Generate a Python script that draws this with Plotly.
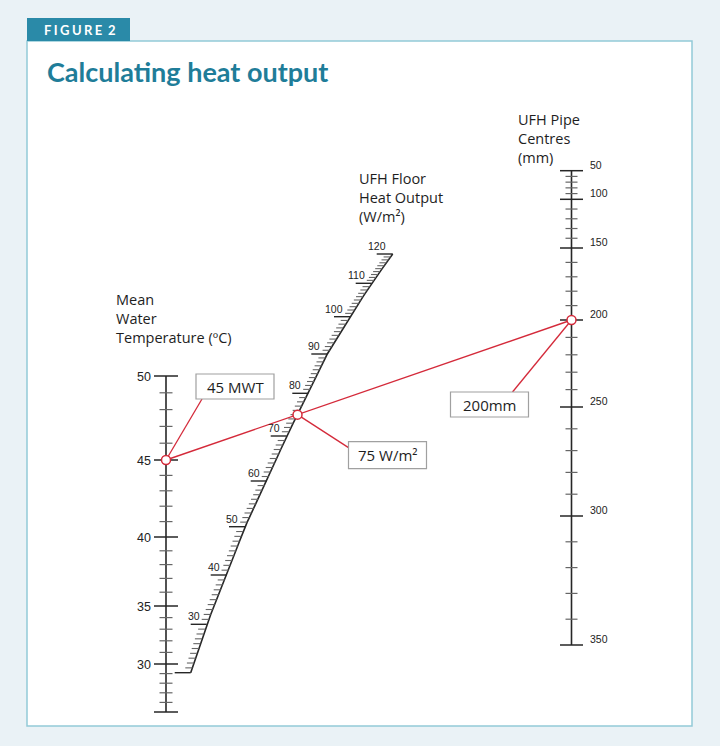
import numpy as np
import plotly.graph_objects as go

# ---------------- data ----------------
mwt_ticks = list(range(25, 51))                 # Mean water temperature (°C), 1° steps
mwt_major = [25, 30, 35, 40, 45, 50]
mwt_labels = [30, 35, 40, 45, 50]

heat_ticks = list(range(20, 121))               # floor heat output (W/m²), 1 W steps
heat_major = [20, 30, 40, 50, 60, 70, 80, 90, 100, 110, 120]
heat_labels = [30, 40, 50, 60, 70, 80, 90, 100, 110, 120]

pipe_ticks = list(range(50, 351, 10))           # pipe centres (mm), 10 mm steps
pipe_major = [50, 100, 150, 200, 250, 300, 350]
pipe_labels = [50, 100, 150, 200, 250, 300, 350]

reading_mwt = 45
reading_heat = 75
reading_pipe = 200
callout_mwt = "45 MWT"
callout_heat = "75 W/m²"
callout_pipe = "200mm"

title_mwt = "Mean<br>Water<br>Temperature (ºC)"
title_heat = "UFH Floor<br>Heat Output<br>(W/m²)"
title_pipe = "UFH Pipe<br>Centres<br>(mm)"

# ---------------- nomogram scales (polylinear, value -> page position) ----------------
W, H = 720, 746
mwt_x = 166.0
mwt_dom = [25, 30, 35, 40, 45, 50]
mwt_rng = [712, 664, 606, 537, 460, 376]

heat_dom = [20, 30, 40, 50, 60, 70, 80, 90, 100, 110, 120]
heat_rng_x = [190.7, 206.7, 226.7, 245.0, 266.7, 286.7, 308.3, 327.3, 350.0, 371.7, 392.7]
heat_rng_y = [672.7, 624.3, 575.0, 526.7, 481.0, 436.0, 393.3, 354.0, 316.7, 283.3, 254.0]

pipe_x = 571.5
pipe_dom = [50, 100, 150, 200, 250, 300, 350]
pipe_rng = [170.7, 199.3, 248.0, 320.0, 407.0, 516.0, 645.0]


def mwt_pos(v):
    v = np.asarray(v, float)
    return np.full_like(v, mwt_x), np.interp(v, mwt_dom, mwt_rng)


def heat_pos(v):
    v = np.asarray(v, float)
    return np.interp(v, heat_dom, heat_rng_x), np.interp(v, heat_dom, heat_rng_y)


def pipe_pos(v):
    v = np.asarray(v, float)
    return np.full_like(v, pipe_x), np.interp(v, pipe_dom, pipe_rng)


def segs(x0, y0, x1, y1):
    xs, ys = [], []
    for a, b, c, d in zip(x0, y0, x1, y1):
        xs += [a, c, None]
        ys += [b, d, None]
    return xs, ys


AX = "#262626"
MINOR = "#666666"
RED = "#d42a3a"
TEAL = "#2a8aa8"
BG = "#eaf2f6"
TICKFONT = "Liberation Sans, Arial"
BODY = "Open Sans"

fig = go.Figure()


def add_lines(xs, ys, color, width):
    fig.add_trace(go.Scatter(x=xs, y=ys, mode="lines", line=dict(color=color, width=width),
                             hoverinfo="skip", showlegend=False))


# ---- MWT scale ----
mx, my = mwt_pos([min(mwt_ticks), max(mwt_ticks)])
add_lines(list(mx), list(my), AX, 1.6)
minor = [t for t in mwt_ticks if t not in mwt_major]
tx, ty = mwt_pos(minor)
add_lines(*segs(tx - 6.5, ty, tx + 6.5, ty), MINOR, 1.2)
tx, ty = mwt_pos(mwt_major)
add_lines(*segs(tx - 12, ty, tx + 12, ty), AX, 1.5)

# ---- heat output scale ----
hx, hy = heat_pos(heat_ticks)
add_lines(list(hx), list(hy), AX, 1.6)
minor = [t for t in heat_ticks if t not in heat_major]
tx, ty = heat_pos(minor)
add_lines(*segs(tx - 7, ty, tx, ty), MINOR, 1.1)
tx, ty = heat_pos(heat_major)
add_lines(*segs(tx - 16, ty, tx, ty), AX, 1.4)

# ---- pipe centres scale ----
px_, py_ = pipe_pos([min(pipe_ticks), max(pipe_ticks)])
add_lines(list(px_), list(py_), AX, 1.6)
minor = [t for t in pipe_ticks if t not in pipe_major]
tx, ty = pipe_pos(minor)
add_lines(*segs(tx - 6, ty, tx + 6, ty), MINOR, 1.2)
tx, ty = pipe_pos(pipe_major)
add_lines(*segs(tx - 11.5, ty, tx + 11.5, ty), AX, 1.5)

# ---- reading line & callouts ----
ax_, ay_ = mwt_pos([reading_mwt])
bx_, by_ = heat_pos([reading_heat])
cx_, cy_ = pipe_pos([reading_pipe])
A = (float(ax_[0]), float(ay_[0]))
B = (float(bx_[0]), float(by_[0]))
C = (float(cx_[0]), float(cy_[0]))

add_lines([A[0], C[0]], [A[1], C[1]], RED, 1.4)

# callout boxes (offsets from reading points): (dx0, dy0, dx1, dy1), leader end (dx, dy)
box_mwt = (30, -86, 108, -61)
lead_mwt = (36, -61)
box_heat = (51, 27, 129, 54)
lead_heat = (51, 33)
box_pipe = (-121, 72, -43, 97)
lead_pipe = (-59, 72)

shapes = []
shapes.append(dict(type="rect", xref="x", yref="y", x0=27, y0=41, x1=692, y1=726,
                   fillcolor="white", line=dict(color="#93cad8", width=1.5), layer="below"))
shapes.append(dict(type="rect", xref="x", yref="y", x0=27, y0=18, x1=130, y1=41,
                   fillcolor=TEAL, line=dict(width=0), layer="below"))

annotations = []
for P, box, lead, txt in [(A, box_mwt, lead_mwt, callout_mwt),
                          (B, box_heat, lead_heat, callout_heat),
                          (C, box_pipe, lead_pipe, callout_pipe)]:
    add_lines([P[0], P[0] + lead[0]], [P[1], P[1] + lead[1]], RED, 1.3)
    x0, y0, x1, y1 = P[0] + box[0], P[1] + box[1], P[0] + box[2], P[1] + box[3]
    shapes.append(dict(type="rect", xref="x", yref="y", x0=x0, y0=y0, x1=x1, y1=y1,
                       fillcolor="white", line=dict(color="#a0a0a0", width=1.2), layer="above"))
    annotations.append(dict(x=(x0 + x1) / 2, y=(y0 + y1) / 2, text=txt, showarrow=False,
                            xref="x", yref="y", xanchor="center", yanchor="middle",
                            font=dict(family=BODY, size=15, color="#1e1e1e")))

fig.add_trace(go.Scatter(x=[A[0], B[0], C[0]], y=[A[1], B[1], C[1]], mode="markers",
                         marker=dict(symbol="circle", size=9, color="white",
                                     line=dict(color=RED, width=1.5)),
                         hoverinfo="skip", showlegend=False))

# ---- tick labels ----
tx, ty = mwt_pos(mwt_labels)
for v, x, y in zip(mwt_labels, tx, ty):
    annotations.append(dict(x=x - 13, y=y + 1, text=str(v), showarrow=False, xanchor="right",
                            yanchor="middle", font=dict(family=TICKFONT, size=12.5, color="#222")))
tx, ty = heat_pos(heat_labels)
for v, x, y in zip(heat_labels, tx, ty):
    annotations.append(dict(x=x - 5, y=y, text=str(v), showarrow=False, xanchor="right",
                            yanchor="bottom", font=dict(family=TICKFONT, size=10.5, color="#222")))
tx, ty = pipe_pos(pipe_labels)
for v, x, y in zip(pipe_labels, tx, ty):
    annotations.append(dict(x=x + 16, y=y - 6, text=str(v), showarrow=False, xanchor="left",
                            yanchor="middle", font=dict(family=TICKFONT, size=10.5, color="#222")))

# ---- axis titles ----
for txt, x, y in [(title_mwt, 114, 318), (title_heat, 357, 197), (title_pipe, 516, 138)]:
    annotations.append(dict(x=x, y=y, text=txt, showarrow=False, xanchor="left", yanchor="middle",
                            align="left", font=dict(family=BODY, size=14.5, color="#1e1e1e")))

# ---- header ----
sp = "\u2009\u200a"
annotations.append(dict(x=79, y=30, text="<b>" + sp.join("FIGURE") + sp + " 2</b>",
                        showarrow=False, xanchor="center", yanchor="middle",
                        font=dict(family="Lato", size=13, color="white")))
annotations.append(dict(x=45, y=71, text="<b>Calculating heat output</b>", showarrow=False,
                        xanchor="left", yanchor="middle",
                        font=dict(family="Lato", size=27, color="#1f7d99")))

fig.update_layout(
    width=W, height=H, autosize=False,
    margin=dict(l=0, r=0, t=0, b=0, pad=0),
    paper_bgcolor=BG, plot_bgcolor=BG,
    xaxis=dict(range=[0, W], visible=False, fixedrange=True),
    yaxis=dict(range=[H, 0], visible=False, fixedrange=True),
    shapes=shapes, annotations=annotations, showlegend=False,
)

fig.write_html("out.html", config={"displayModeBar": False},
               post_script="document.body.style.margin='0';document.body.style.background='%s';"
                           "document.body.style.overflow='hidden';" % BG)
